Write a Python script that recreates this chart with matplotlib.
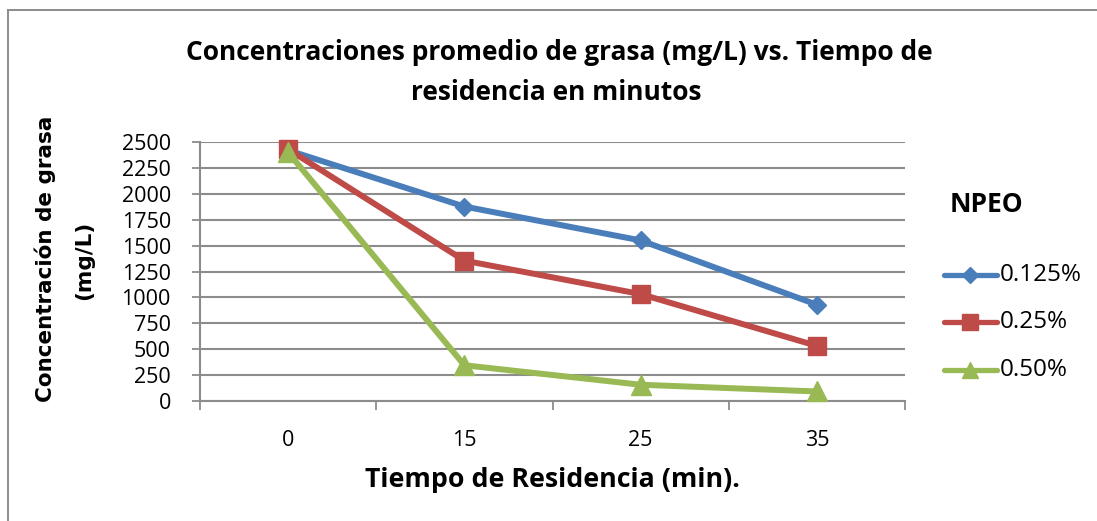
import matplotlib
matplotlib.use("Agg")
import matplotlib.pyplot as plt
from matplotlib.lines import Line2D
import numpy as np

categories = ["0", "15", "25", "35"]
series_names = ["0.125%", "0.25%", "0.50%"]
s_0125 = [2420, 1877, 1550, 930]
s_025 = [2430, 1355, 1032, 532]
s_050 = [2400, 345, 157, 92]
yticks = [0, 250, 500, 750, 1000, 1250, 1500, 1750, 2000, 2250, 2500]

colors = ["#4A7EBB", "#BE4B48", "#98B954"]
markers = ["D", "s", "^"]
msizes = [9.5, 13.5, 14]
leg_msizes = [8.5, 11.5, 12]

W, H = 1097, 521
fig = plt.figure(figsize=(W / 100, H / 100), dpi=100)
TF = "Open Sans"

def fx(px):
    return px / W

def fy(py):
    return 1 - py / H

# outer chart border (only top & left edges visible in the image)
fig.add_artist(Line2D([fx(8), fx(1100)], [fy(10), fy(10)], color="#8C8C8C",
                      linewidth=1.4, transform=fig.transFigure))
fig.add_artist(Line2D([fx(8), fx(8)], [fy(10), fy(530)], color="#8C8C8C",
                      linewidth=1.4, transform=fig.transFigure))

ax = fig.add_axes([fx(200), fy(401), fx(905) - fx(200), fy(142) - fy(401)])
x = np.arange(len(categories))
data = [s_0125, s_025, s_050]
for vals, c, m, ms in zip(data, colors, markers, msizes):
    ax.plot(x, vals, color=c, linewidth=4.3, marker=m, markersize=ms,
            markeredgecolor=c, markeredgewidth=1, zorder=3, clip_on=False)

ax.set_xlim(-0.5, len(categories) - 0.5)
ax.set_ylim(0, 2500)
ax.set_yticks(yticks)
ax.set_yticklabels([str(v) for v in yticks], fontfamily=TF, fontsize=15.5)
ax.set_xticks(x)
ax.set_xticklabels(categories, fontfamily=TF, fontsize=15.5)
ax.set_xticks(np.arange(-0.5, len(categories), 1.0), minor=True)
ax.tick_params(axis="x", which="major", length=0, pad=21)
ax.tick_params(axis="x", which="minor", length=6.5, width=1.3, color="#8C8C8C", direction="out")
ax.tick_params(axis="y", which="major", length=6, width=1.3, color="#8C8C8C", direction="out", pad=15)
ax.grid(axis="y", color="#8C8C8C", linewidth=1.5, zorder=0)
ax.set_axisbelow(True)
for s in ["top", "right"]:
    ax.spines[s].set_visible(False)
for s in ["left", "bottom"]:
    ax.spines[s].set_color("#8C8C8C")
    ax.spines[s].set_linewidth(1.5)

# title
fig.text(fx(559), fy(53), "Concentraciones promedio de grasa (mg/L) vs. Tiempo de",
         ha="center", va="center", fontfamily=TF, fontweight="bold", fontsize=19)
fig.text(fx(556), fy(93), "residencia en minutos",
         ha="center", va="center", fontfamily=TF, fontweight="bold", fontsize=19)

# axis titles
fig.text(fx(552), fy(480), "Tiempo de Residencia (min).",
         ha="center", va="center", fontfamily=TF, fontweight="bold", fontsize=19.3)
fig.text(fx(45), fy(259), "Concentración de grasa", rotation=90,
         ha="center", va="center", fontfamily="DejaVu Sans", fontweight="bold", fontsize=15.5)
fig.text(fx(84), fy(260), "(mg/L)", rotation=90,
         ha="center", va="center", fontfamily="DejaVu Sans", fontweight="bold", fontsize=15.5)

# legend (manual)
fig.text(fx(950), fy(205), "NPEO", ha="left", va="center",
         fontfamily=TF, fontweight="bold", fontsize=19)
leg_y = [275, 322, 370]
for name, c, m, ms, py in zip(series_names, colors, markers, leg_msizes, leg_y):
    fig.add_artist(Line2D([fx(944), fx(997)], [fy(py), fy(py)], color=c,
                          linewidth=3.8, solid_capstyle="round",
                          transform=fig.transFigure))
    fig.add_artist(Line2D([fx(970)], [fy(py)], color=c, marker=m, markersize=ms,
                          markeredgecolor=c, transform=fig.transFigure))
    fig.text(fx(1000), fy(py), name, ha="left", va="center",
             fontfamily=TF, fontsize=17.5)

fig.savefig("out.png", dpi=100)
